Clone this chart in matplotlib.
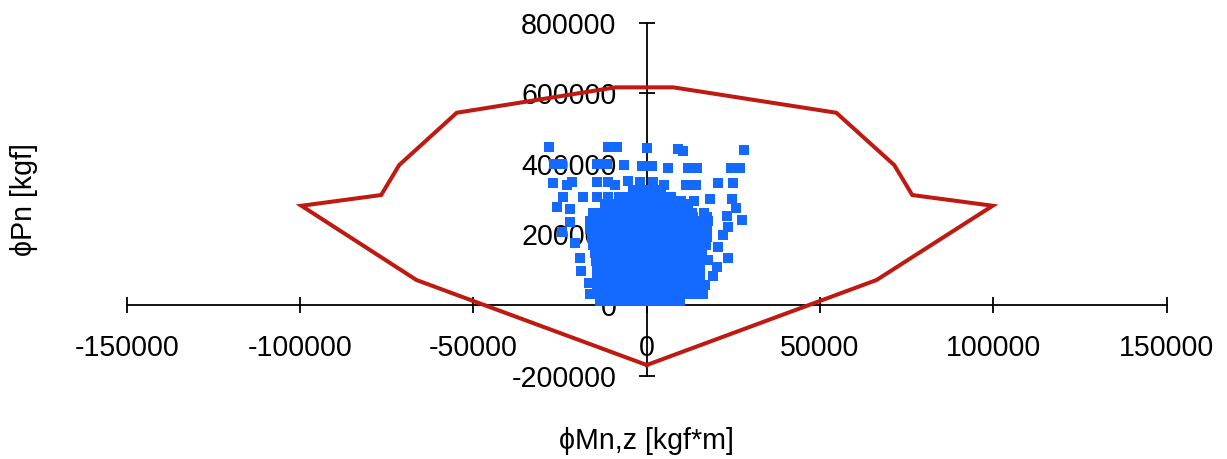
import matplotlib
matplotlib.use("Agg")
import matplotlib.pyplot as plt
from matplotlib.ticker import FixedLocator

plt.rcParams['font.family'] = ['Liberation Sans', 'DejaVu Sans']

# Design interaction curve (phi*Mn,z vs phi*Pn), closed polygon
curve_mz = [0, 66300, 99800, 76600, 71400, 54700, 7700, -9000,
            -54800, -71400, -76600, -99600, -66400, 0]
curve_pn = [-170000, 70900, 281400, 311800, 396800, 545000, 617000, 617000,
            545000, 396800, 311800, 281400, 70900, -170000]

# Demand points: dense core, one list of moments per load level
core_pn = [12000, 32000, 55000, 78000, 101000, 124000, 147000, 170000,
           193000, 216000, 239000, 262000, 285000, 305000, 325000]
core_mz = [
    [-13500, -10900, -8300, -5700, -3100, -500, 2100, 4700, 7300, 9600],
    [-14000, -11400, -8800, -6200, -3600, -1000, 1600, 4200, 6800, 9400, 12000, 14600, 16000],
    [-14300, -11700, -9100, -6500, -3900, -1300, 1300, 3900, 6500, 9100, 11700, 14300, 15500],
    [-14200, -11500, -8900, -6300, -3700, -1100, 1500, 4100, 6700, 9300, 11900, 14500, 15400],
    [-14300, -11700, -9100, -6500, -3900, -1300, 1300, 3900, 6500, 9100, 11700, 14300, 15400],
    [-14600, -12000, -9400, -6800, -4200, -1600, 1000, 3600, 6200, 8800, 11400, 14000, 15400],
    [-15000, -12400, -9800, -7200, -4600, -2000, 600, 3200, 5800, 8400, 11000, 13600, 16000],
    [-15500, -12900, -10300, -7700, -5100, -2500, 100, 2700, 5300, 7900, 10500, 13100, 15700, 17000],
    [-15800, -13200, -10600, -8000, -5400, -2800, -200, 2400, 5000, 7600, 10200, 12800, 15400, 17400],
    [-16300, -13700, -11100, -8500, -5900, -3300, -700, 1900, 4500, 7100, 9700, 12300, 14900, 17400],
    [-16500, -13900, -11300, -8700, -6100, -3500, -900, 1700, 4300, 6900, 9500, 12100, 14700, 17600],
    [-15500, -12900, -10300, -7700, -5100, -2500, 100, 2700, 5300, 7900, 10500, 13100, 16500],
    [-12000, -9400, -6800, -4200, -1600, 1000, 3600, 6200, 8800, 12000],
    [-8000, -5400, -2800, -200, 2400, 5000, 7000],
    [-4000, -1400, 1200, 4000],
]

# Demand points: scattered outer points
edge_mz = [-28100, -11200, -8600, 0, 8900, 10400, 28200,
           -26700, -24400, -14300, -11500, -6550, -1400, 1500, 6230, 11900, 14500, 24300, 26900,
           -27000, -21500, -23000, -14300, -11200, -9150, -5300, -1900, 1900, 5080, 11340, 14200, 20660, 24980,
           -24060, -18470, -14300, -11200, 6230, 9900, 13650, 18260, 24520,
           -25960, -22130, 9120, 25760, 13440, 17310, 23250, 27400, -22130, -24500,
           23370, 22100, -20700, 20660, -19240, 17770, 23540, -18950, 20200, 19210,
           -16560, 16820, -16360, 16330]
edge_pn = [448700, 447000, 447000, 444000, 441400, 437400, 439400,
           398800, 398800, 399700, 399700, 396800, 394000, 394000, 389200, 389200, 389200, 389200, 389200,
           345000, 349500, 340000, 349500, 349500, 340000, 351000, 349500, 349500, 340200, 340200, 340200, 345000, 345000,
           307000, 307000, 306000, 306000, 295700, 295700, 295700, 299600, 299600,
           278600, 271200, 274000, 275800, 250300, 250300, 253100, 241000, 236100, 207800,
           222000, 198400, 174900, 165300, 132400, 127600, 132400, 97200, 108600, 83100,
           63200, 56700, 30300, 30300]

x_ticks = [-150000, -100000, -50000, 0, 50000, 100000, 150000]
y_ticks = [-200000, 0, 200000, 400000, 600000, 800000]

W, H = 1227, 459
fig = plt.figure(figsize=(W / 100, H / 100), dpi=100)
ax = fig.add_axes([126.7 / W, (H - 375.6) / H, 1040 / W, 352.8 / H])
ax.set_xlim(x_ticks[0], x_ticks[-1])
ax.set_ylim(y_ticks[0], y_ticks[-1])

ax.plot(curve_mz, curve_pn, color='#BE1A12', lw=2.9, zorder=3,
        solid_joinstyle='miter')

dem_mz = [m for row in core_mz for m in row] + edge_mz
dem_pn = [p for p, row in zip(core_pn, core_mz) for _ in row] + edge_pn
ax.plot(dem_mz, dem_pn, linestyle='none', marker='s', markersize=7.3,
        markeredgewidth=0, color='#1469FF', zorder=4)

for side in ('top', 'right'):
    ax.spines[side].set_visible(False)
ax.spines['left'].set_position(('data', 0))
ax.spines['bottom'].set_position(('data', 0))
for side in ('left', 'bottom'):
    ax.spines[side].set_linewidth(1.3)
    ax.spines[side].set_color('black')

ax.xaxis.set_major_locator(FixedLocator(x_ticks))
ax.yaxis.set_major_locator(FixedLocator(y_ticks))
ax.set_xticklabels([str(v) for v in x_ticks])
ax.set_yticklabels([str(v) for v in y_ticks])
ax.tick_params(axis='both', direction='inout', length=11.5, width=1.3,
               labelsize=20.6, colors='black')
ax.tick_params(axis='x', pad=15)
ax.tick_params(axis='y', pad=16)

fig.text(646 / W, 1 - 441 / H, 'ϕMn,z [kgf*m]', ha='center', va='center',
         fontsize=20.6)
fig.text(24 / W, 1 - 200 / H, 'ϕPn [kgf]', ha='center', va='center',
         fontsize=20.6, rotation=90)

fig.savefig('out.png', dpi=100)
